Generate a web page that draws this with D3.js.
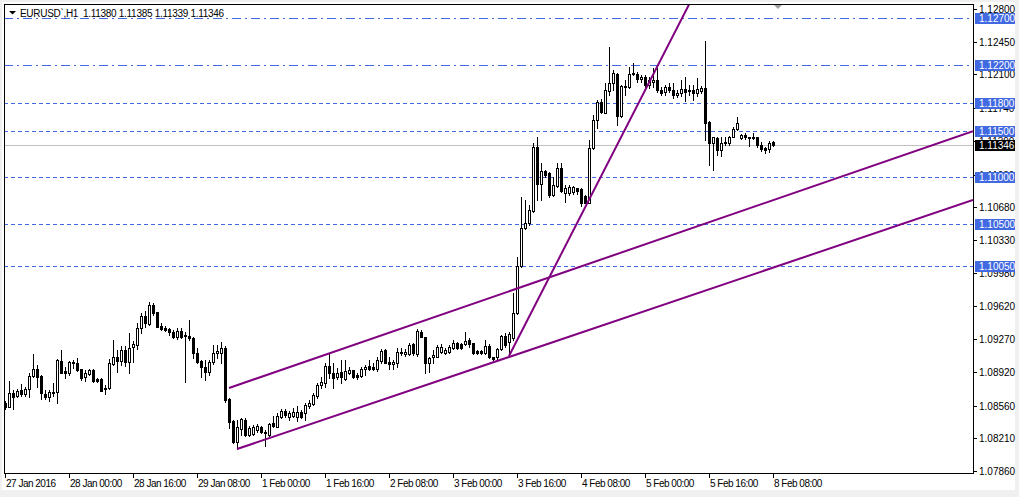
<!DOCTYPE html>
<html lang="en">
<head>
<meta charset="UTF-8">
<title>EURUSD H1</title>
<script src="https://d3js.org/d3.v7.min.js"></script>
<style>
    body {
        margin: 0;
        background-color: #f0f0f0;
    }
    svg { display: block; }
    text {
        font-family: "Liberation Sans", Arial, sans-serif;
        font-size: 10px;
    }
</style>
</head>
<body>

<div id="chart"></div>

<script>

//hourly bars, 27 Jan 2016 08:00 -> 8 Feb 2016 08:00
var open = [
    1.08590,1.08548,1.08691,1.08662,1.08726,1.08683,1.08740,1.08876,1.08947,1.08876,
    1.08680,1.08654,1.08691,1.08702,1.09033,1.08926,1.08911,1.09012,1.09018,1.08947,
    1.08862,1.08897,1.08940,1.08841,1.08844,1.08748,1.08744,1.09004,1.09076,1.09039,
    1.09154,1.09029,1.09183,1.09207,1.09386,1.09517,1.09432,1.09638,1.09560,1.09410,
    1.09392,1.09375,1.09350,1.09296,1.09360,1.09311,1.09304,1.09285,1.09125,1.09039,
    1.08975,1.08922,1.09029,1.09119,1.09125,1.09178,1.08633,1.08395,1.08173,1.08306,
    1.08405,1.08245,1.08256,1.08298,1.08327,1.08280,1.08245,1.08370,1.08334,1.08441,
    1.08505,1.08441,1.08451,1.08441,1.08491,1.08483,1.08555,1.08576,1.08662,1.08780,
    1.08798,1.08983,1.08911,1.08862,1.08915,1.08841,1.08911,1.08940,1.08887,1.08879,
    1.08947,1.08983,1.08975,1.08947,1.09039,1.09154,1.09029,1.09004,1.09018,1.09136,
    1.09111,1.09111,1.09218,1.09111,1.09350,1.09296,1.09018,1.09076,1.09082,1.09136,
    1.09119,1.09136,1.09172,1.09232,1.09218,1.09218,1.09261,1.09232,1.09143,1.09146,
    1.09119,1.09197,1.09076,1.09076,1.09161,1.09304,1.09239,1.09279,1.09546,1.10052,
    1.10455,1.10509,1.10643,1.11321,1.10926,1.11068,1.11043,1.10811,1.10911,1.11097,
    1.10829,1.10836,1.10847,1.10883,1.10875,1.10801,1.10729,1.11311,1.11613,1.11809,
    1.11691,1.11927,1.12012,1.12105,1.11656,1.11963,1.11963,1.12105,1.12105,1.12048,
    1.12070,1.11988,1.12020,1.12041,1.11934,1.11909,1.11963,1.11934,1.11881,1.11899,
    1.11942,1.11920,1.11934,1.11905,1.11927,1.11952,1.11595,1.11364,1.11418,1.11292,
    1.11371,1.11371,1.11435,1.11514,1.11418,1.11453,1.11428,1.11428,1.11428,1.11346,
    1.11311,1.11300,1.11380
]
var high = [
    1.08612,1.08826,1.08726,1.08734,1.08787,1.08761,1.08905,1.09111,1.08990,1.08887,
    1.08726,1.08726,1.08798,1.09054,1.09154,1.08975,1.09039,1.09047,1.09065,1.08947,
    1.08940,1.08954,1.08947,1.08851,1.08851,1.08780,1.09054,1.09261,1.09154,1.09197,
    1.09197,1.09332,1.09253,1.09439,1.09546,1.09568,1.09664,1.09653,1.09560,1.09439,
    1.09410,1.09392,1.09368,1.09386,1.09386,1.09350,1.09475,1.09296,1.09172,1.09047,
    1.09047,1.09047,1.09207,1.09207,1.09243,1.09197,1.08637,1.08405,1.08405,1.08424,
    1.08424,1.08341,1.08352,1.08363,1.08341,1.08298,1.08370,1.08448,1.08477,1.08520,
    1.08520,1.08505,1.08530,1.08555,1.08512,1.08584,1.08619,1.08691,1.08798,1.08868,
    1.09012,1.09119,1.09012,1.08958,1.09047,1.09047,1.08975,1.08940,1.08905,1.08975,
    1.08993,1.09047,1.09018,1.09082,1.09161,1.09161,1.09082,1.09047,1.09172,1.09172,
    1.09161,1.09225,1.09229,1.09375,1.09368,1.09296,1.09082,1.09154,1.09207,1.09218,
    1.09172,1.09207,1.09261,1.09243,1.09225,1.09350,1.09279,1.09232,1.09154,1.09154,
    1.09261,1.09218,1.09082,1.09172,1.09314,1.09332,1.09350,1.09760,1.10152,1.10787,
    1.10758,1.10704,1.11364,1.11435,1.11150,1.11079,1.11060,1.11007,1.11150,1.11150,
    1.10918,1.10918,1.10908,1.10886,1.10883,1.10811,1.11399,1.11667,1.11827,1.11835,
    1.12006,1.12391,1.12148,1.12116,1.11988,1.12041,1.12183,1.12220,1.12126,1.12094,
    1.12094,1.12073,1.12166,1.12169,1.11966,1.11988,1.12009,1.12009,1.11934,1.12041,
    1.12076,1.11988,1.11988,1.12062,1.11977,1.12461,1.11603,1.11435,1.11431,1.11435,
    1.11428,1.11442,1.11535,1.11642,1.11463,1.11471,1.11431,1.11477,1.11435,1.11381,
    1.11328,1.11392,1.11385
]
var low = [
    1.08526,1.08541,1.08520,1.08648,1.08662,1.08662,1.08654,1.08868,1.08761,1.08627,
    1.08627,1.08612,1.08662,1.08590,1.08905,1.08851,1.08887,1.08958,1.08933,1.08833,
    1.08826,1.08883,1.08815,1.08815,1.08719,1.08687,1.08737,1.08993,1.08922,1.08993,
    1.08983,1.08905,1.09029,1.09161,1.09339,1.09403,1.09421,1.09528,1.09397,1.09368,
    1.09360,1.09314,1.09279,1.09268,1.09279,1.08815,1.09261,1.09065,1.09018,1.08862,
    1.08833,1.08887,1.09004,1.09065,1.09018,1.08601,1.08317,1.08163,1.08092,1.08245,
    1.08234,1.08234,1.08245,1.08280,1.08270,1.08127,1.08234,1.08334,1.08327,1.08424,
    1.08441,1.08405,1.08434,1.08398,1.08424,1.08405,1.08530,1.08566,1.08637,1.08744,
    1.08761,1.08851,1.08744,1.08841,1.08798,1.08833,1.08897,1.08851,1.08841,1.08868,
    1.08887,1.08940,1.08940,1.08933,1.09012,1.09012,1.08947,1.08947,1.08975,1.09100,
    1.09090,1.09100,1.09100,1.09090,1.09290,1.08911,1.08922,1.09012,1.09076,1.09125,
    1.09108,1.09125,1.09161,1.09165,1.09161,1.09207,1.09189,1.09108,1.09108,1.09111,
    1.09108,1.09065,1.09047,1.09054,1.09154,1.09189,1.09100,1.09261,1.09539,1.10045,
    1.10444,1.10490,1.10633,1.10758,1.10758,1.11007,1.10793,1.10801,1.10900,1.10847,
    1.10740,1.10811,1.10822,1.10822,1.10694,1.10723,1.10723,1.11303,1.11528,1.11685,
    1.11685,1.11881,1.11934,1.11560,1.11645,1.11881,1.11952,1.12094,1.12020,1.12020,
    1.11955,1.11955,1.11969,1.11916,1.11881,1.11881,1.11913,1.11849,1.11859,1.11870,
    1.11820,1.11881,1.11827,1.11870,1.11902,1.11399,1.11132,1.11079,1.11239,1.11228,
    1.11346,1.11346,1.11428,1.11506,1.11413,1.11407,1.11335,1.11407,1.11321,1.11285,
    1.11264,1.11268,1.11339
]
var close = [
    1.08541,1.08691,1.08654,1.08715,1.08683,1.08740,1.08876,1.08947,1.08868,1.08691,
    1.08648,1.08705,1.08702,1.09047,1.08911,1.08905,1.09022,1.09029,1.08940,1.08851,
    1.08905,1.08940,1.08826,1.08826,1.08719,1.08734,1.09012,1.09076,1.09039,1.09154,
    1.09029,1.09172,1.09218,1.09386,1.09517,1.09439,1.09635,1.09553,1.09397,1.09378,
    1.09371,1.09343,1.09290,1.09360,1.09296,1.09304,1.09279,1.09119,1.09029,1.08969,
    1.08922,1.09029,1.09119,1.09143,1.09172,1.08619,1.08387,1.08173,1.08330,1.08413,
    1.08245,1.08317,1.08334,1.08341,1.08280,1.08270,1.08359,1.08341,1.08448,1.08505,
    1.08459,1.08483,1.08494,1.08491,1.08441,1.08566,1.08584,1.08673,1.08780,1.08815,
    1.08983,1.08905,1.08851,1.08911,1.08862,1.08933,1.08940,1.08862,1.08862,1.08947,
    1.08975,1.08947,1.08947,1.09047,1.09146,1.09018,1.09004,1.09029,1.09136,1.09119,
    1.09136,1.09207,1.09122,1.09360,1.09296,1.09018,1.09065,1.09100,1.09183,1.09189,
    1.09154,1.09189,1.09225,1.09172,1.09172,1.09253,1.09218,1.09119,1.09119,1.09119,
    1.09197,1.09076,1.09054,1.09161,1.09304,1.09207,1.09325,1.09546,1.10052,1.10455,
    1.10509,1.10651,1.11321,1.10926,1.11071,1.11025,1.10811,1.10918,1.11097,1.10857,
    1.10883,1.10900,1.10894,1.10857,1.10729,1.10729,1.11311,1.11613,1.11809,1.11702,
    1.11934,1.12012,1.12113,1.11656,1.11977,1.11977,1.12105,1.12113,1.12048,1.12070,
    1.11988,1.12041,1.12041,1.11934,1.11905,1.11963,1.11934,1.11881,1.11905,1.11942,
    1.11916,1.11934,1.11905,1.11942,1.11952,1.11584,1.11364,1.11428,1.11292,1.11371,
    1.11378,1.11435,1.11514,1.11578,1.11453,1.11428,1.11421,1.11418,1.11346,1.11300,
    1.11292,1.11371,1.11346
]

//time labels, one every 16 bars
var tickLabels = ["27 Jan 2016", "28 Jan 00:00", "28 Jan 16:00", "29 Jan 08:00", "1 Feb 00:00",
    "1 Feb 16:00", "2 Feb 08:00", "3 Feb 00:00", "3 Feb 16:00", "4 Feb 08:00",
    "5 Feb 00:00", "5 Feb 16:00", "8 Feb 08:00"]
var tickStep = 16

//price scale labels
var priceTicks = [1.12800, 1.12450, 1.12100, 1.11740, 1.11390, 1.11030, 1.10680,
    1.10330, 1.09980, 1.09620, 1.09270, 1.08920, 1.08560, 1.08210, 1.07860]

//horizontal levels
var dashDotLevels = [1.12700, 1.12200]
var dashLevels = [1.11800, 1.11500, 1.11000, 1.10500, 1.10050]
var bid = 1.11346

//trend lines: [bar, price] anchors, extended to the right edge
var trendLines = [
    [[56, 1.08748], [136, 1.09929]],
    [[58, 1.08095], [126, 1.09079]],
    [[126, 1.09090], [160, 1.11929]]
]

var symbol = "EURUSD`,H1"

//frame
var W = 1019, H = 497
var plot = {left: 4, top: 4, right: 973, bottom: 474}

var svg = d3.select("#chart")
    .append("svg")
        .attr("width", W)
        .attr("height", H)

svg.append("rect")
    .attr("x", 2).attr("y", 2)
    .attr("width", 1013).attr("height", 488)
    .attr("fill", "white")

var x = d3.scaleLinear()
    .domain([0, 242])
    .range([5, 973])

var y = d3.scaleLinear()
    .domain([1.07860, 1.12800])
    .range([471, 9])

var py = function(v) { return Math.round(y(v)) + 0.5 }
var px = function(i) { return Math.round(x(i)) }

svg.append("clipPath")
    .attr("id", "plotclip")
    .append("rect")
        .attr("x", plot.left).attr("y", plot.top + 1)
        .attr("width", plot.right - plot.left)
        .attr("height", plot.bottom - plot.top - 1)

var g = svg.append("g")
    .attr("clip-path", "url(#plotclip)")
    .attr("shape-rendering", "crispEdges")

//levels
g.selectAll("line.dashdot")
    .data(dashDotLevels)
    .enter()
    .append("line")
        .attr("x1", plot.left).attr("x2", plot.right)
        .attr("y1", py).attr("y2", py)
        .attr("stroke", "#4169e1")
        .attr("stroke-dasharray", "9,4,2,4")

g.selectAll("line.dash")
    .data(dashLevels)
    .enter()
    .append("line")
        .attr("x1", plot.left).attr("x2", plot.right)
        .attr("y1", py).attr("y2", py)
        .attr("stroke", "#4169e1")
        .attr("stroke-dasharray", "4,3")

//bid line
g.append("line")
    .attr("x1", plot.left).attr("x2", plot.right)
    .attr("y1", py(bid)).attr("y2", py(bid))
    .attr("stroke", "#c0c0c0")

//candles
var bars = open.map(function(o, i) {
    return {i: i, o: o, h: high[i], l: low[i], c: close[i]}
})

g.selectAll("line.wick")
    .data(bars)
    .enter()
    .append("line")
        .attr("x1", function(d) { return px(d.i) + 0.5 })
        .attr("x2", function(d) { return px(d.i) + 0.5 })
        .attr("y1", function(d) { return Math.round(y(d.h)) })
        .attr("y2", function(d) { return Math.round(y(d.l)) + 1 })
        .attr("stroke", "black")

g.selectAll("rect.body")
    .data(bars)
    .enter()
    .append("rect")
        .attr("x", function(d) { return px(d.i) - 0.5 })
        .attr("y", function(d) { return py(Math.max(d.o, d.c)) })
        .attr("width", 2)
        .attr("height", function(d) { return Math.round(y(Math.min(d.o, d.c))) - Math.round(y(Math.max(d.o, d.c))) })
        .attr("fill", function(d) { return d.c >= d.o ? "white" : "black" })
        .attr("stroke", "black")

//trend lines
var tl = svg.append("g").attr("clip-path", "url(#plotclip)")
var xmax = x.domain()[1]
tl.selectAll("line")
    .data(trendLines)
    .enter()
    .append("line")
        .attr("x1", function(d) { return x(d[0][0]) })
        .attr("y1", function(d) { return y(d[0][1]) })
        .attr("x2", x(xmax))
        .attr("y2", function(d) {
            var k = (d[1][1] - d[0][1]) / (d[1][0] - d[0][0])
            return y(d[0][1] + k * (xmax - d[0][0]))
        })
        .attr("stroke", "#800080")
        .attr("stroke-width", 2)

//frame lines
svg.append("rect")
    .attr("x", plot.left + 0.5).attr("y", plot.top + 0.5)
    .attr("width", plot.right - plot.left)
    .attr("height", plot.bottom - plot.top - 1)
    .attr("fill", "none")
    .attr("stroke", "black")
    .attr("shape-rendering", "crispEdges")

//price axis
var ax = svg.append("g").attr("shape-rendering", "crispEdges")
ax.selectAll("line.tick")
    .data(priceTicks)
    .enter()
    .append("line")
        .attr("x1", plot.right + 1).attr("x2", plot.right + 4)
        .attr("y1", py).attr("y2", py)
        .attr("stroke", "black")
ax.selectAll("text.tick")
    .data(priceTicks)
    .enter()
    .append("text")
        .attr("x", plot.right + 6)
        .attr("y", function(d) { return py(d) })
        .attr("dy", "0.35em")
        .attr("fill", "black")
        .text(function(d) { return d.toFixed(5) })

//level labels
var tags = dashDotLevels.concat(dashLevels)
ax.selectAll("rect.tag")
    .data(tags)
    .enter()
    .append("rect")
        .attr("x", plot.right + 2).attr("y", function(d) { return Math.round(y(d)) - 5 })
        .attr("width", 40).attr("height", 11)
        .attr("fill", "#4169e1")
ax.selectAll("text.tag")
    .data(tags)
    .enter()
    .append("text")
        .attr("x", plot.right + 6)
        .attr("y", function(d) { return py(d) })
        .attr("dy", "0.35em")
        .attr("fill", "white")
        .text(function(d) { return d.toFixed(5) })

ax.append("rect")
    .attr("x", plot.right + 2).attr("y", Math.round(y(bid)) - 5)
    .attr("width", 40).attr("height", 11)
    .attr("fill", "black")
ax.append("text")
    .attr("x", plot.right + 6)
    .attr("y", py(bid))
    .attr("dy", "0.35em")
    .attr("fill", "white")
    .text(bid.toFixed(5))

//time axis
ax.selectAll("line.time")
    .data(tickLabels)
    .enter()
    .append("line")
        .attr("x1", function(d, k) { return px(k * tickStep) + 0.5 })
        .attr("x2", function(d, k) { return px(k * tickStep) + 0.5 })
        .attr("y1", plot.bottom).attr("y2", plot.bottom + 4)
        .attr("stroke", "black")
ax.selectAll("text.time")
    .data(tickLabels)
    .enter()
    .append("text")
        .attr("x", function(d, k) { return px(k * tickStep) + 1 })
        .attr("y", 487)
        .attr("fill", "black")
        .style("letter-spacing", "-0.5px")
        .text(function(d) { return d })

//shift marker
var sx = px(open.length) + 1
svg.append("path")
    .attr("d", "M" + (sx - 4) + ",5L" + (sx + 4) + ",5L" + sx + ",9Z")
    .attr("fill", "#a0a0a0")

//title
var last = open.length - 1
svg.append("path")
    .attr("d", "M9,11L16,11L12.5,14.5Z")
    .attr("fill", "black")
svg.append("text")
    .attr("x", 20)
    .attr("y", 17)
    .attr("fill", "black")
    .style("letter-spacing", "-0.3px")
    .text(symbol + "\u00a0\u00a0" + [open[last], high[last], low[last], close[last]].map(function(v) { return v.toFixed(5) }).join(" "))

</script>

</body>
</html>
